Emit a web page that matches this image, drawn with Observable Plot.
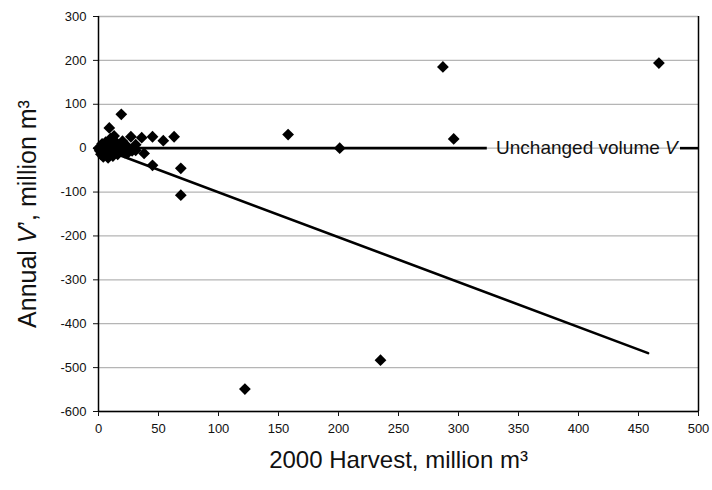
<!DOCTYPE html>
<html>
<head>
<meta charset="utf-8">
<script src="https://cdn.jsdelivr.net/npm/d3@7"></script>
<script src="https://cdn.jsdelivr.net/npm/@observablehq/plot@0.6"></script>
<style>
  html, body { margin: 0; padding: 0; background: #fff; }
  #chart { width: 712px; height: 490px; }
</style>
</head>
<body>
<div id="chart"></div>
<script>
// Scatter data: 2000 harvest (million m3) vs annual change in volume V' (million m3)
const harvest = [0, 1, 2, 2, 3, 4, 5, 5, 6, 7, 8, 9, 9, 10, 11, 12, 12, 13, 14, 15, 16, 17, 19, 19, 20, 22, 24, 24, 27, 28, 31, 31, 36, 38, 45, 45, 54, 63, 68.6, 68.6, 122, 158, 201, 235, 287, 296, 467];
const change  = [0, -6, 4, -14, 10, -20, 2, -8, 14, -4, -22, 46, 6, 22, -12, -18, 3, 28, -6, 12, -14, 8, 77, -4, 16, -10, 4, -12, 26, -6, 8, -5, 24, -12, 26, -39, 17, 26, -46, -107, -549, 31, 0, -483, 185, 21, 194];

// Fitted trend line endpoints
const trendX = [0, 458];
const trendY = [2, -467];

// "Unchanged volume V" reference line (y = 0), split around its label
const refStart = [0, 485];
const refEnd = [324, 500];
const refLabelX = [407];

// Axes
const xTicks = [0, 50, 100, 150, 200, 250, 300, 350, 400, 450, 500];
const yTicks = [-600, -500, -400, -300, -200, -100, 0, 100, 200, 300];
const xTitle = "2000 Harvest, million m³";
const yTitle = "Annual V’, million m³";
const refLabel = "Unchanged volume V";

const points = harvest.map((h, i) => ({x: h, y: change[i]}));
const trend = trendX.map((x, i) => ({x, y: trendY[i]}));
const refSegs = refStart.map((s, i) => ({x1: s, x2: refEnd[i], y: 0}));
const hyphen = d => (d < 0 ? "-" + Math.abs(d) : String(d));

const chart = Plot.plot({
  width: 712,
  height: 490,
  marginLeft: 98,
  marginRight: 14,
  marginTop: 16,
  marginBottom: 79,
  style: {fontFamily: "'Liberation Sans', Arial, sans-serif", fontSize: "13px", color: "#111", background: "#fff"},
  x: {domain: [0, 500], ticks: xTicks, tickFormat: hyphen, label: null, tickSize: 5, tickPadding: 7},
  y: {domain: [-600, 300], ticks: yTicks, tickFormat: hyphen, label: null, tickSize: 5, tickPadding: 7},
  marks: [
    Plot.ruleY(yTicks, {stroke: "#b5b5b5", strokeWidth: 1.3}),
    Plot.ruleX([0], {stroke: "#000", strokeWidth: 1.5}),
    Plot.ruleX([500], {stroke: "#000", strokeWidth: 1.5}),
    Plot.ruleY([-600], {stroke: "#000", strokeWidth: 1.5}),
    Plot.ruleY(refSegs, {x1: "x1", x2: "x2", y: "y", stroke: "#000", strokeWidth: 2.6}),
    Plot.line(trend, {x: "x", y: "y", stroke: "#000", strokeWidth: 2.6}),
    Plot.dot(points, {x: "x", y: "y", symbol: "diamond2", r: 5.3, fill: "#000", stroke: "none"}),
    Plot.text(refLabelX.map(x => ({x, y: 0})), {x: "x", y: "y", text: () => refLabel, fontSize: 19, fill: "#111", className: "reflabel"}),
    Plot.text([xTitle], {frameAnchor: "bottom", textAnchor: "middle", lineAnchor: "middle", dy: 49, fontSize: 24, fill: "#111", className: "xtitle"}),
    Plot.text([yTitle], {frameAnchor: "left", textAnchor: "middle", lineAnchor: "middle", dx: -71, rotate: -90, fontSize: 25, fill: "#111", className: "ytitle"})
  ]
});

document.getElementById("chart").appendChild(chart);

// Italicise the variable V in labels
function italicV(sel, before, after) {
  d3.select(chart).selectAll(sel + " text").each(function() {
    const t = d3.select(this);
    t.text(null);
    t.append("tspan").text(before);
    t.append("tspan").attr("font-style", "italic").text("V");
    if (after) t.append("tspan").text(after);
  });
}
italicV(".reflabel", "Unchanged volume ", "");
italicV(".ytitle", "Annual ", "’, million m³");
</script>
</body>
</html>
